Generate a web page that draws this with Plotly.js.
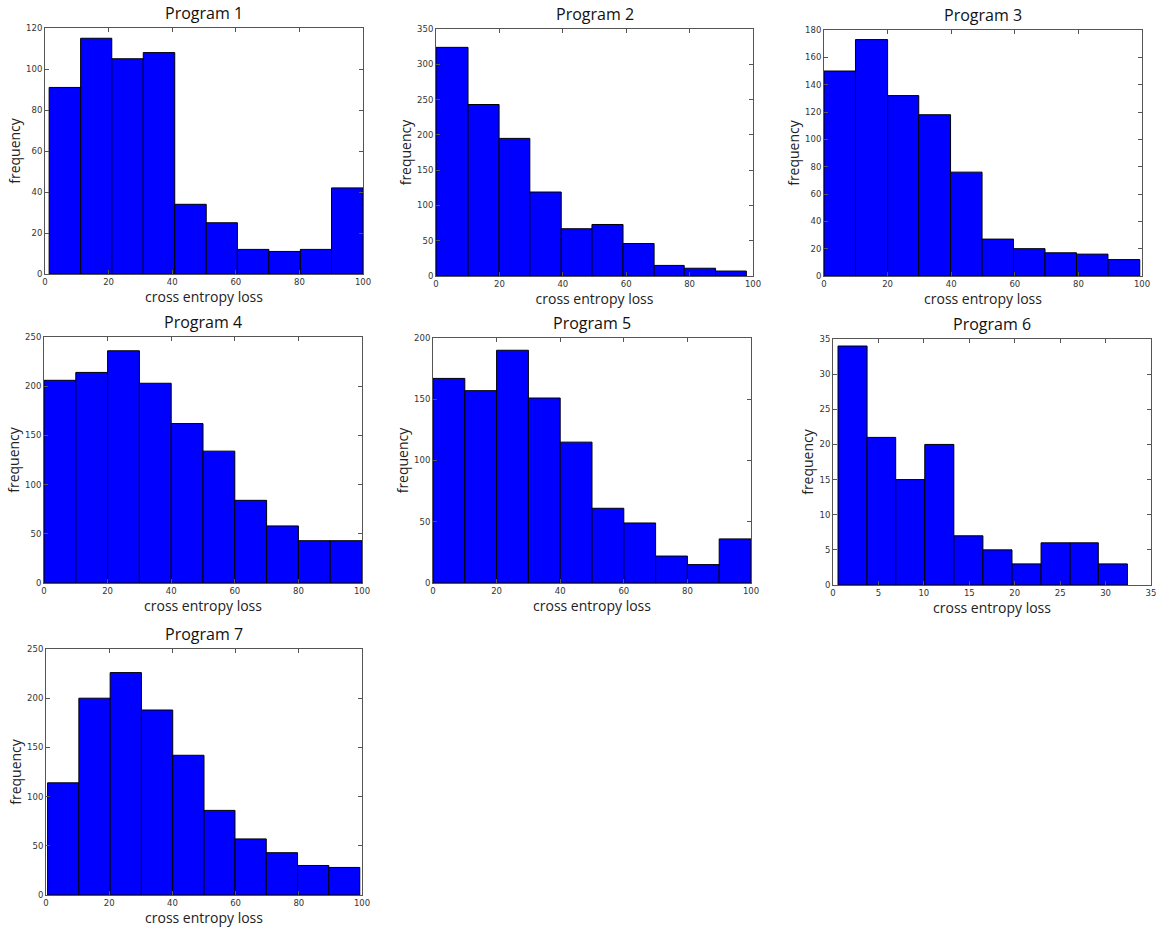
<!DOCTYPE html>
<html>
<head>
<meta charset="utf-8">
<script src="https://cdn.plot.ly/plotly-3.0.1.min.js"></script>
<style>html,body{margin:0;padding:0;background:#fff;}#chart{width:1159px;height:928px;}</style>
</head>
<body>
<div id="chart"></div>
<script>
// ---- data ----
const titles = ["Program 1","Program 2","Program 3","Program 4","Program 5","Program 6","Program 7"];

const edges1 = [1.3, 11.2, 21.0, 30.9, 40.8, 50.7, 60.5, 70.4, 80.3, 90.1, 100];
const counts1 = [91, 115, 105, 108, 34, 25, 12, 11, 12, 42];

const edges2 = [0, 10.1, 19.9, 29.6, 39.5, 49.2, 59.0, 68.8, 78.3, 88.2, 97.9];
const counts2 = [324, 243, 195, 119, 67, 73, 46, 15, 11, 7];

const edges3 = [0, 9.9, 20.0, 29.8, 39.8, 49.7, 59.6, 69.5, 79.4, 89.3, 99.3];
const counts3 = [150, 173, 132, 118, 76, 27, 20, 17, 16, 12];

const edges4 = [0, 10, 20, 30, 40, 50, 60, 70, 80, 90, 100];
const counts4 = [206, 214, 236, 203, 162, 134, 84, 58, 43, 43];

const edges5 = [0, 10, 20, 30, 40, 50, 60, 70, 80, 90, 100];
const counts5 = [167, 157, 190, 151, 115, 61, 49, 22, 15, 36];

const edges6 = [0.55, 3.75, 6.9, 10.1, 13.3, 16.5, 19.7, 22.9, 26.1, 29.2, 32.4];
const counts6 = [34, 21, 15, 20, 7, 5, 3, 6, 6, 3];

const edges7 = [0.5, 10.4, 20.3, 30.2, 40.1, 50.0, 59.8, 69.7, 79.6, 89.5, 99.3];
const counts7 = [114, 200, 226, 188, 142, 86, 57, 43, 30, 28];

const xRanges = [[0,100],[0,100],[0,100],[0,100],[0,100],[0,35],[0,100]];
const yRanges = [[0,120],[0,350],[0,180],[0,250],[0,200],[0,35],[0,250]];
const xDtick = [20,20,20,20,20,5,20];
const yDtick = [20,50,20,50,50,5,50];

const xLabel = "cross entropy loss";
const yLabel = "frequency";

// ---- layout (pixel boxes of each plot area) ----
const W = 1159, H = 928;
const boxes = [
  [45, 363, 28, 274],
  [436, 753, 29, 276],
  [824, 1142, 30, 276],
  [44, 362, 337, 583],
  [433, 751, 338, 583],
  [833, 1151, 339, 585],
  [46, 362, 649, 895]
];

const allEdges = [edges1, edges2, edges3, edges4, edges5, edges6, edges7];
const allCounts = [counts1, counts2, counts3, counts4, counts5, counts6, counts7];

const traces = [];
const layout = {
  width: W, height: H,
  margin: {l: 0, r: 0, t: 0, b: 0},
  paper_bgcolor: "#ffffff",
  plot_bgcolor: "#ffffff",
  showlegend: false,
  font: {family: "Open Sans, sans-serif", color: "#222"},
  annotations: []
};

for (let i = 0; i < 7; i++) {
  const e = allEdges[i];
  const c = allCounts[i];
  const left = e.slice(0, -1);
  const widths = left.map((v, k) => e[k + 1] - v);
  const n = i + 1;
  const xa = "x" + (n === 1 ? "" : n);
  const ya = "y" + (n === 1 ? "" : n);
  traces.push({
    type: "bar",
    x: left,
    y: c,
    width: widths,
    offset: 0,
    xaxis: xa, yaxis: ya,
    marker: {color: "#0000ff", line: {color: "#000000", width: 1}},
    hoverinfo: "x+y"
  });
  const b = boxes[i];
  const axCommon = {
    showgrid: false, zeroline: false,
    showline: true, mirror: "allticks", linecolor: "#555", linewidth: 1,
    ticks: "inside", ticklen: 4, tickcolor: "#555",
    tickfont: {size: 8.5, color: "#333", family: "DejaVu Sans, sans-serif"},
    fixedrange: true
  };
  layout["xaxis" + (n === 1 ? "" : n)] = Object.assign({}, axCommon, {
    domain: [b[0] / W, b[1] / W],
    anchor: ya,
    range: xRanges[i],
    dtick: xDtick[i], tick0: 0,
    ticklabelstandoff: 0,
    title: {text: xLabel, font: {size: 14, color: "#222"}, standoff: 0}
  });
  layout["yaxis" + (n === 1 ? "" : n)] = Object.assign({}, axCommon, {
    domain: [1 - b[3] / H, 1 - b[2] / H],
    anchor: xa,
    range: yRanges[i],
    dtick: yDtick[i], tick0: 0,
    title: {text: yLabel, font: {size: 14, color: "#222"}, standoff: 2}
  });
  layout.annotations.push({
    text: titles[i],
    xref: "paper", yref: "paper",
    x: (b[0] + b[1]) / 2 / W,
    y: 1 - (b[2] - 2) / H,
    xanchor: "center", yanchor: "bottom",
    showarrow: false,
    font: {size: 16, color: "#111"}
  });
}

Plotly.newPlot("chart", traces, layout, {displayModeBar: false, staticPlot: true});
</script>
</body>
</html>
